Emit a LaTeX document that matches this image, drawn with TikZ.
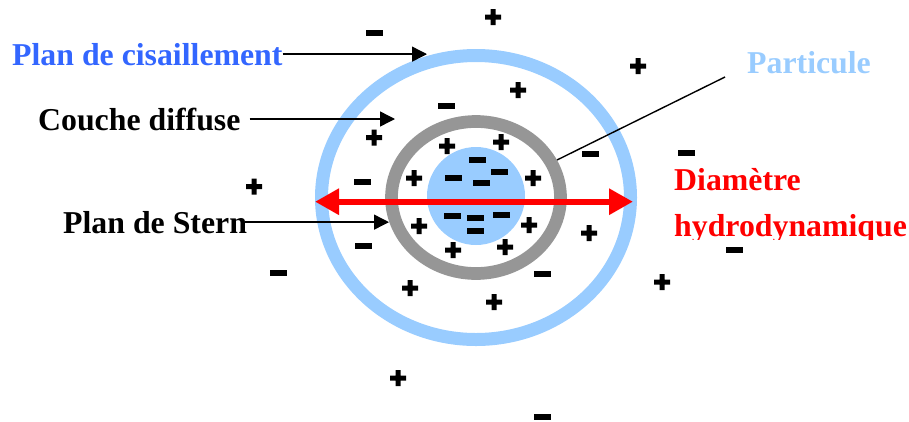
\documentclass[tikz,border=0pt]{standalone}
\usepackage{fontspec}
\setmainfont{Liberation Serif}
\usetikzlibrary{arrows.meta}
\definecolor{cisblue}{HTML}{3366FF}
\definecolor{partblue}{HTML}{99CCFF}
\definecolor{sterngray}{HTML}{969696}

\begin{document}
\begin{tikzpicture}[x=1pt, y=-1pt,
      lbl/.style  = {inner sep=0pt, anchor=base west,
                     font=\fontsize{31.8}{36}\selectfont\bfseries},
      arr/.style  = {-{Triangle[length=15pt, width=15pt]}, line width=1.4pt},
      diam/.style = {{Triangle[length=24pt, width=25pt]}-{Triangle[length=24pt, width=25pt]},
                     line width=6pt, red},
      ring/.style = {line width=13pt}
    ]
    \useasboundingbox (0,0) rectangle (909,421);

    % shear plane, Stern layer, particle
    \draw[ring, partblue]  (476,197.5) ellipse [x radius=154.5pt, y radius=142pt];
    \draw[ring, sterngray, line width=12.7pt] (476,197.5) ellipse [x radius=84.5pt, y radius=76pt];
    \fill[partblue] (476,196) circle [radius=49pt];

    % charges
    \foreach \x/\y in {493/17, 638/66, 518/90, 374/137.5, 447/146, 501/142,
                       414/178, 533/178, 419/226, 529/225, 453/250, 505/247,
                       589/233, 410/288, 494/302, 662/282, 254/186.5, 398/378}
      \fill[shift={(\x,\y)}] (-8,-2.5) rectangle (8,2.5) (-2.5,-8) rectangle (2.5,8);
    \foreach \x/\y in {374/33, 446/105.5, 362/182, 363/246, 590/154, 542/274,
                       477/160, 453/177.5, 499/171.5, 481/183, 452/215.5, 475/217.5,
                       501/215, 475/231, 278/273, 542/417, 686/153, 734/250}
      \fill[shift={(\x,\y)}] (-8.5,-3) rectangle (8.5,3);

    % hydrodynamic diameter
    \coordinate (dl) at (315,201.7);
    \coordinate (dr) at (633,201.7);
    \draw[diam] (dl) -- (dr);

    \node[lbl, text=cisblue]  (cis)   at (12,65)   {Plan de cisaillement};
    \node[lbl]                (diff)  at (38,130)  {Couche diffuse};
    \node[lbl]                (stern) at (63,233)  {Plan de Stern};
    \node[lbl, text=partblue] (part)  at (747,73)  {Particule};
    \node[lbl, text=red]      (dia)   at (674,190.5) {Diamètre};
    \begin{scope}
      \clip (660,200) rectangle (909,239);
      \node[lbl, text=red]    (hydro) at (674,236.5) {hydrodynamique};
    \end{scope}

    \coordinate (cisT)   at (427,55);
    \coordinate (diffT)  at (395,119.3);
    \coordinate (sternT) at (389,221.7);
    \coordinate (partA)  at (557,160);
    \coordinate (partB)  at (725,77);

    \draw[arr] (cis.east) -- (cis.east -| cisT);
    \draw[arr] ([xshift=9pt]diff.east) -- (diff.east -| diffT);
    \draw[arr] ([xshift=-2pt]stern.east) -- (stern.east -| sternT);
    \draw[line width=1.4pt] (partA) -- (partB);
  \end{tikzpicture}
\end{document}
